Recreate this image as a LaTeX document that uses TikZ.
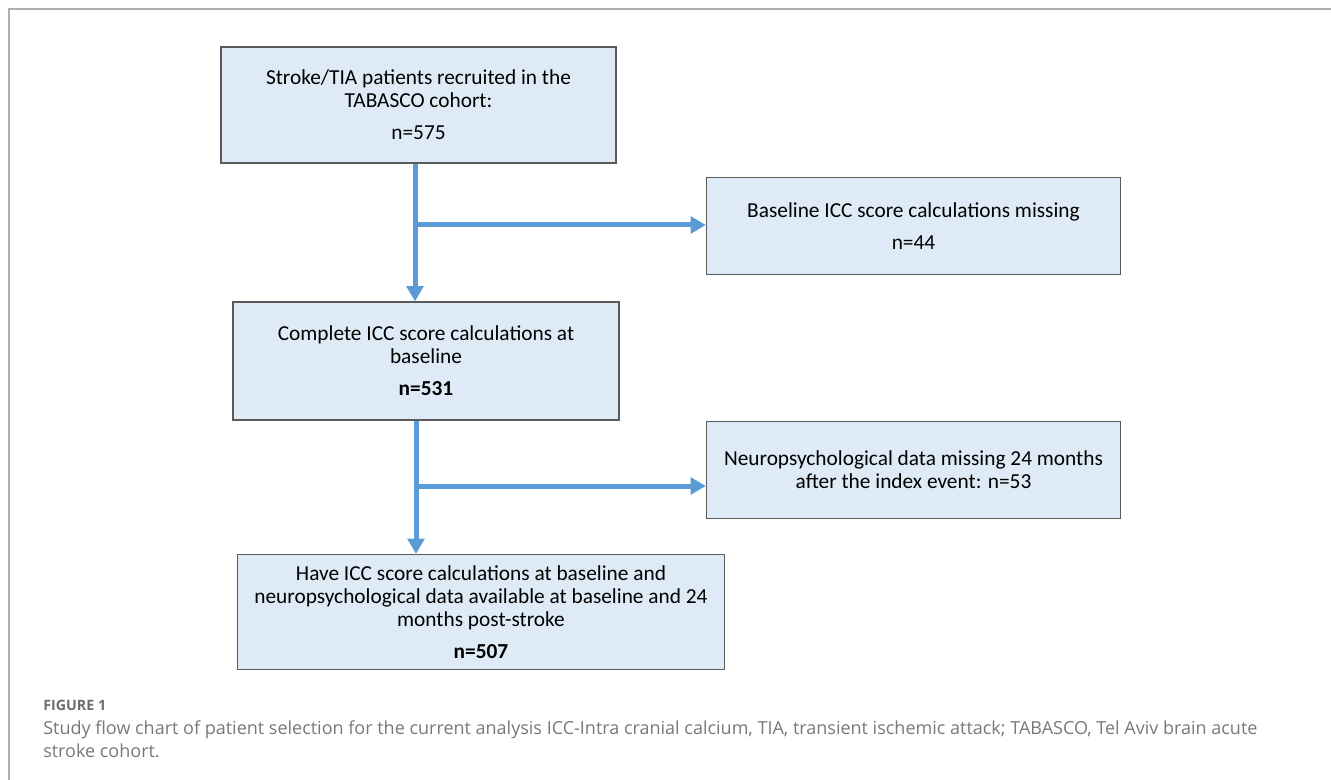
\documentclass[tikz,border=0pt]{standalone}
\usepackage{fontspec}
\setmainfont{Carlito}
\newfontfamily\capfont{Open Sans}
\usepackage{tikz}
\usetikzlibrary{arrows.meta, positioning, calc}
\definecolor{BoxFill}{RGB}{222, 235, 247}
\definecolor{BoxLine}{RGB}{90, 90, 90}
\definecolor{FlowBlue}{RGB}{91, 155, 213}
\definecolor{CapGrey}{RGB}{120, 120, 120}
\definecolor{FrameGrey}{RGB}{175, 175, 175}

\begin{document}
\begin{tikzpicture}[x=0.75pt, y=-0.75pt,
  box/.style={draw=BoxLine, fill=BoxFill, line width=0.9pt, align=center, inner sep=0pt, font=\fontsize{16}{17.25}\selectfont},
  flow/.style={-{Triangle[length=11.5pt, width=12.5pt]}, FlowBlue, line width=3.75pt},
  captext/.style={anchor=west, align=left, inner sep=0pt, text=CapGrey, font=\capfont\fontsize{13.5}{17.25}\selectfont}]
\useasboundingbox (0,0) rectangle (1331,780);
\draw[FrameGrey, line width=1.1pt] (9,790) -- (9,9) -- (1331,9);
\node[box, minimum width=296.25pt, minimum height=87pt] (recruit) at (418.5,105) {Stroke/TIA patients recruited in the\\ TABASCO cohort:\\[6.75pt] n=575};
\node[box, minimum width=310.5pt, minimum height=72.75pt] (nobase) at (913.5,226) {Baseline ICC score calculations missing\\[6.75pt] n=44};
\node[box, minimum width=289.5pt, minimum height=88.5pt] (complete) at (426,361) {Complete ICC score calculations at\\ baseline\\[6.75pt] \textbf{n=531}};
\node[box, minimum width=310.5pt, minimum height=72.75pt] (noneuro) at (913.5,470) {Neuropsychological data missing 24 months\\ after the index event: n=53};
\node[box, minimum width=365.25pt, minimum height=86.25pt] (final) at (481,612) {Have ICC score calculations at baseline and\\ neuropsychological data available at baseline and 24\\ months post-stroke\\[6.75pt] \textbf{n=507}};
\coordinate (j1) at (415,225);
\coordinate (j2) at (416,486);
\draw[flow] (j1 |- recruit.south) -- (j1 |- complete.north);
\draw[flow] (j1) -- (j1 -| nobase.west);
\draw[flow] (j2 |- complete.south) -- (j2 |- final.north);
\draw[flow] (j2) -- (j2 -| noneuro.west);
\node[captext, font=\capfont\fontsize{10.7}{12}\selectfont\bfseries, text=CapGrey!90!black] (figlab) at (43,705) {FIGURE 1};
\node[captext] (caption) at (43,739) {Study flow chart of patient selection for the current analysis ICC-Intra cranial calcium, TIA, transient ischemic attack; TABASCO, Tel Aviv brain acute\\ stroke cohort.};
\end{tikzpicture}
\end{document}
